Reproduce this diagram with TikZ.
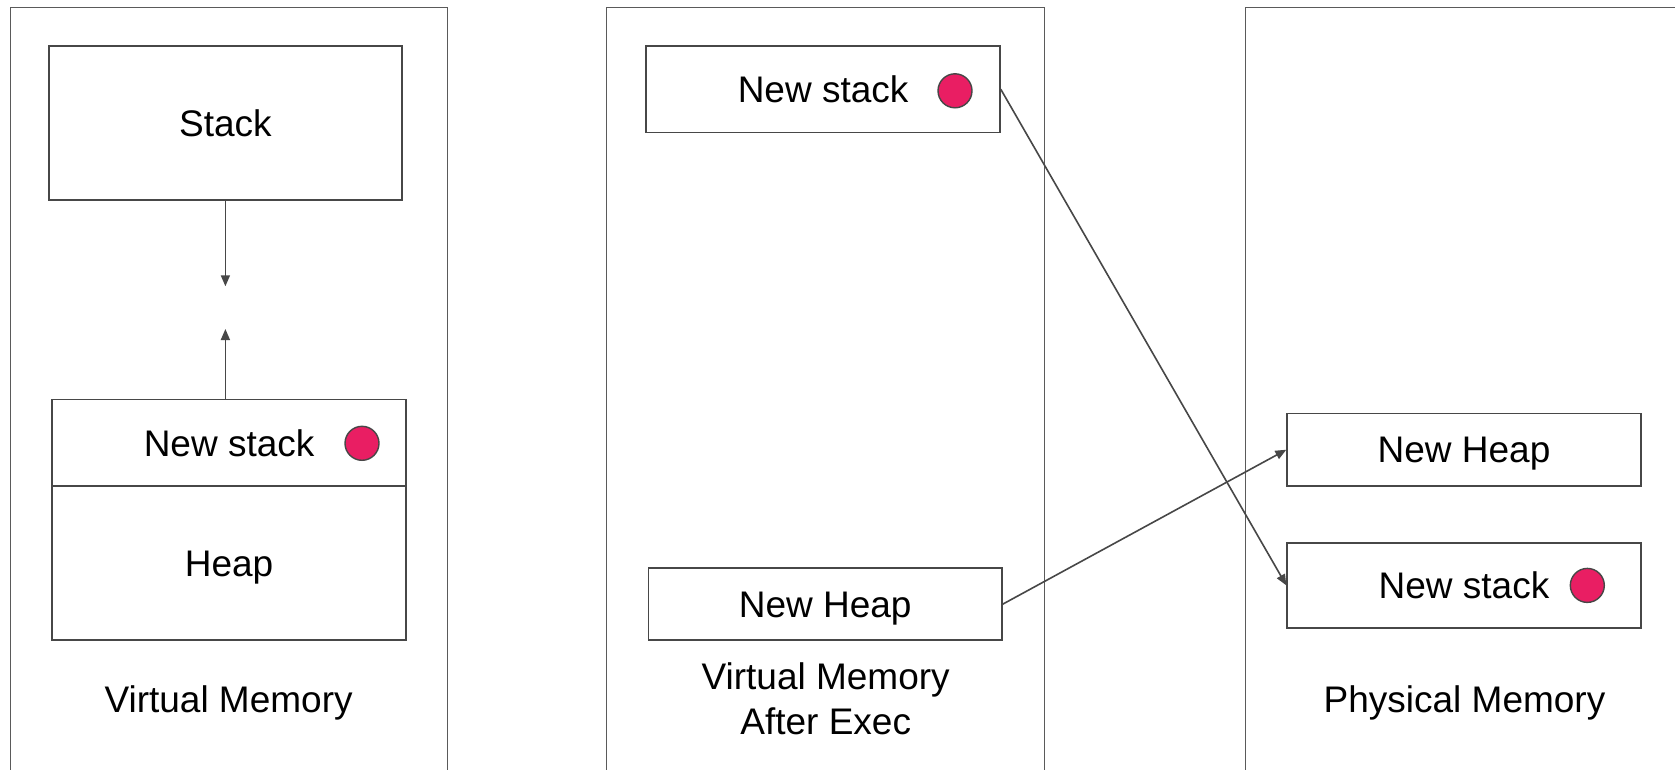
\documentclass[tikz,border=0pt]{standalone}
\usepackage{fontspec}
\setmainfont{Liberation Sans}
\usetikzlibrary{arrows.meta}

\definecolor{edge}{HTML}{474747}
\definecolor{frameline}{HTML}{5A5A5A}
\definecolor{marker}{HTML}{E91E63}

\tikzset{
  memframe/.style={draw=frameline, line width=1.5pt},
  block/.style={draw=edge, line width=1.7pt, rectangle, inner sep=0pt,
    font=\fontsize{37}{45}\selectfont, text height=26.5pt, text depth=-4.5pt},
  tag/.style={circle, draw=edge, line width=1.4pt, fill=marker,
    minimum size=34pt, inner sep=0pt},
  caption/.style={font=\fontsize{37}{45}\selectfont, align=center, inner sep=0pt},
  link/.style={draw=edge, line width=1.6pt,
    -{Triangle[length=11pt,width=9pt]}}
}

\begin{document}
\begin{tikzpicture}[x=1pt, y=-1pt]
  \useasboundingbox[fill=white] (0,0) rectangle (1675,770);

  % three memory columns (open at the bottom / right)
  \draw[memframe] (10.7,775) -- (10.7,7.5) -- (447.6,7.5) -- (447.6,775);
  \draw[memframe] (606.7,775) -- (606.7,7.5) -- (1044.7,7.5) -- (1044.7,775);
  \draw[memframe] (1245.5,775) -- (1245.5,7.5) -- (1680,7.5);

  % ---- virtual memory ----
  \node[block, minimum width=352.5pt, minimum height=153.9pt] (stack) at (225.4,122.8) {Stack};
  \node[block, minimum width=353.6pt, minimum height=86.5pt] (vnew) at (229.1,442.75) {New stack};
  \node[block, minimum width=353.6pt, minimum height=153.9pt] (vheap) at (229.1,562.95) {Heap};
  \node[tag] (vdot) at (362,443.3) {};
  \coordinate (gapA) at (225.4,286.3);
  \coordinate (gapB) at (225.4,329);
  \draw[link] (stack.south) -- (gapA);
  \draw[link] (vnew.north -| gapB) -- (gapB);
  \node[caption] (vcap) at (228.6,702.5) {Virtual Memory};

  % ---- virtual memory after exec ----
  \node[block, minimum width=353.6pt, minimum height=86.6pt] (enew) at (823.1,89.2) {New stack};
  \node[tag] (edot) at (955,90.8) {};
  \node[block, minimum width=353.6pt, minimum height=71.6pt] (eheap) at (825.2,604.1) {New Heap};
  \node[caption] (ecap) at (825.7,698.6) {Virtual Memory\\After Exec};

  % ---- physical memory ----
  \node[block, minimum width=353.6pt, minimum height=72.6pt] (pheap) at (1464,449.7) {New Heap};
  \node[block, minimum width=353.6pt, minimum height=85.4pt] (pnew) at (1464,585.4) {New stack};
  \node[tag] (pdot) at (1587.3,585.4) {};
  \node[caption] (pcap) at (1464.5,702.5) {Physical Memory};

  % mappings
  \draw[link] (enew.east) -- (pnew.west);
  \draw[link] (eheap.east) -- (pheap.west);
\end{tikzpicture}
\end{document}
